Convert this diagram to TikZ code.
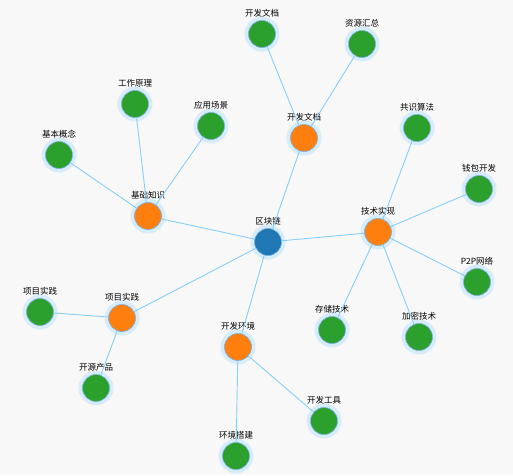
\documentclass[tikz,border=0pt]{standalone}
\usepackage{fontspec}
\newfontfamily\cjk{Noto Sans CJK SC}
\usetikzlibrary{positioning}
\definecolor{bgray}{RGB}{248,248,248}
\definecolor{kgreen}{RGB}{44,160,44}
\definecolor{korange}{RGB}{255,127,14}
\definecolor{kblue}{RGB}{31,119,180}
\definecolor{khalo}{RGB}{214,236,251}
\definecolor{kring}{RGB}{120,175,225}
\definecolor{kedge}{RGB}{135,206,250}
\newcommand{\kpoint}[5]{%
  \node[#1,label={[ktext]above:#5}] (#2) at (#3,#4) {};
}

\begin{document}
\begin{tikzpicture}[x=1pt,y=-1pt,
    kbase/.style={circle,minimum size=27pt,inner sep=0pt,outer sep=0pt,
      draw=kring,line width=.6pt,preaction={draw=khalo,line width=8pt}},
    kroot/.style={kbase,fill=kblue},
    khub/.style={kbase,fill=korange},
    kleaf/.style={kbase,fill=kgreen},
    ktext/.style={font=\cjk\fontsize{8.5}{9}\selectfont,inner sep=0pt,label distance=3pt},
    klink/.style={draw=kedge,line width=.9pt}]
    \fill[bgray] (0,0) rectangle (513,475);
    \useasboundingbox (0,0) rectangle (513,475);
    % root and hubs
    \kpoint{kroot}{chain}{268}{242}{区块链}
    \kpoint{khub}{basics}{148}{216}{基础知识}
    \kpoint{khub}{docs}{304}{138}{开发文档}
    \kpoint{khub}{tech}{378}{232}{技术实现}
    \kpoint{khub}{project}{122}{318}{项目实践}
    \kpoint{khub}{env}{238}{347}{开发环境}
    % leaves
    \kpoint{kleaf}{concept}{59}{155}{基本概念}
    \kpoint{kleaf}{principle}{135}{104}{工作原理}
    \kpoint{kleaf}{usecase}{211}{126}{应用场景}
    \kpoint{kleaf}{docsleaf}{262}{34}{开发文档}
    \kpoint{kleaf}{resource}{362}{44}{资源汇总}
    \kpoint{kleaf}{consensus}{417}{128}{共识算法}
    \kpoint{kleaf}{wallet}{479}{189}{钱包开发}
    \kpoint{kleaf}{ptp}{477}{282}{P2P网络}
    \kpoint{kleaf}{storage}{332}{330}{存储技术}
    \kpoint{kleaf}{crypto}{419}{337}{加密技术}
    \kpoint{kleaf}{practice}{40}{312}{项目实践}
    \kpoint{kleaf}{opensrc}{96}{388}{开源产品}
    \kpoint{kleaf}{setup}{236}{456}{环境搭建}
    \kpoint{kleaf}{tools}{324}{421}{开发工具}
    % links
    \foreach \hub in {basics,docs,tech,project,env}
      \draw[klink] (chain) -- (\hub);
    \foreach \leaf in {concept,principle,usecase}
      \draw[klink] (basics) -- (\leaf);
    \foreach \leaf in {docsleaf,resource}
      \draw[klink] (docs) -- (\leaf);
    \foreach \leaf in {consensus,wallet,ptp,storage,crypto}
      \draw[klink] (tech) -- (\leaf);
    \foreach \leaf in {practice,opensrc}
      \draw[klink] (project) -- (\leaf);
    \foreach \leaf in {setup,tools}
      \draw[klink] (env) -- (\leaf);
\end{tikzpicture}
\end{document}
